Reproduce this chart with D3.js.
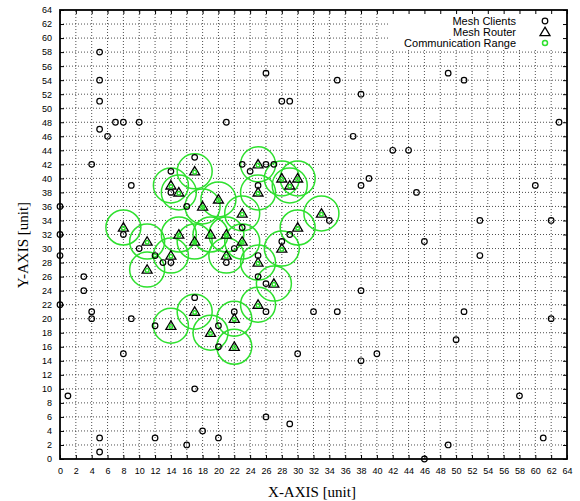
<!doctype html>
<html lang="en">
<head>
<meta charset="utf-8" />
<title>Mesh network layout</title>
<style>
  html, body { margin: 0; padding: 0; background: #fff; }
  svg text { fill: #000; }
  .tick text { font: 9px "Liberation Sans", Arial, sans-serif; }
  .title { font: 15px "Liberation Serif", "Times New Roman", serif; }
  .key { font: 11px "Liberation Sans", Arial, sans-serif; }
</style>
</head>
<body>
<svg id="chart" width="580" height="501"></svg>
<script src="https://cdn.jsdelivr.net/npm/d3@7/dist/d3.min.js"></script>
<script>
// mesh clients, [x, y] in units
const clients = [
  [5,58],[5,54],[5,51],[5,47],[6,46],[7,48],[8,48],[10,48],[21,48],
  [26,55],[35,54],[28,51],[29,51],[38,52],[49,55],[51,54],[37,46],[42,44],[44,44],[63,48],
  [4,42],[9,39],[0,36],[0,32],[0,29],[3,26],[3,24],[0,22],[8,32],[10,30],[12,29],[13,28],[14,28],
  [14,38],[14,41],[17,43],[16,36],[23,42],[24,41],[17,23],[23,33],[22,30],[21,28],[25,29],[25,39],[25,26],
  [26,42],[27,42],[38,39],[39,40],[45,38],[34,34],[29,32],[28,31],[26,25],[53,34],[46,31],[53,29],[38,24],
  [26,21],[32,21],[35,21],[51,21],[50,17],[30,15],[38,14],[40,15],[26,6],[29,5],[49,2],[46,0],
  [4,21],[4,20],[9,20],[8,15],[1,9],[5,3],[5,1],[12,3],[16,2],[18,4],[20,3],[17,10],[12,19],[20,19],[20,16],[22,21],
  [60,39],[62,34],[62,20],[58,9],[61,3]
];

// mesh routers, [x, y] in units; each gets a communication-range circle
const routers = [
  [8,33],[11,31],[11,27],[14,29],[14,39],[15,38],[17,41],[18,36],[20,37],[23,35],
  [15,32],[17,31],[19,32],[21,32],[23,31],[21,29],[25,28],[25,42],[25,38],[25,22],
  [28,40],[30,40],[29,39],[33,35],[30,33],[28,30],[27,25],
  [14,19],[17,21],[19,18],[22,20],[22,16]
];

const ticks = d3.range(0, 65, 2);
const keyLabels = ['Mesh Clients', 'Mesh Router', 'Communication Range'];

const GREEN = '#2ee02e';
const RANGE_PX = 17.5;

const svg = d3.select('#chart');
const x = d3.scaleLinear([0, 64], [60, 567]);
const y = d3.scaleLinear([0, 64], [459, 10]);

// dotted grid
const grid = svg.append('g').attr('stroke', '#222').attr('stroke-width', 0.8).attr('stroke-dasharray', '1,2');
grid.selectAll('line.v').data(ticks.slice(1, -1)).join('line').attr('class', 'v')
  .attr('x1', d => x(d)).attr('x2', d => x(d)).attr('y1', y(0)).attr('y2', y(64));
grid.selectAll('line.h').data(ticks.slice(1, -1)).join('line').attr('class', 'h')
  .attr('y1', d => y(d)).attr('y2', d => y(d)).attr('x1', x(0)).attr('x2', x(64));

// key box blanks the grid underneath
svg.append('rect').attr('x', 388).attr('y', y(64) + 1).attr('width', x(64) - 389).attr('height', 37).attr('fill', '#fff');

// communication ranges
svg.append('g').selectAll('circle').data(routers).join('circle')
  .attr('cx', d => x(d[0])).attr('cy', d => y(d[1])).attr('r', RANGE_PX)
  .attr('fill', 'none').attr('stroke', GREEN).attr('stroke-width', 1.5);

// clients
svg.append('g').selectAll('circle').data(clients).join('circle')
  .attr('cx', d => x(d[0])).attr('cy', d => y(d[1])).attr('r', 2.8)
  .attr('fill', 'none').attr('stroke', '#000').attr('stroke-width', 1.2);

function tri(cx, cy) {
  return `M${cx},${cy - 4.8}L${cx + 5},${cy + 3.6}L${cx - 5},${cy + 3.6}Z`;
}

// routers: open triangle + small green range marker
const rg = svg.append('g');
rg.selectAll('path').data(routers).join('path')
  .attr('d', d => tri(x(d[0]), y(d[1])))
  .attr('fill', 'none').attr('stroke', '#000').attr('stroke-width', 1.3);
rg.selectAll('circle').data(routers).join('circle')
  .attr('cx', d => x(d[0])).attr('cy', d => y(d[1]) + 0.8).attr('r', 1.8)
  .attr('fill', 'none').attr('stroke', GREEN).attr('stroke-width', 1.5);

// axes, ticks inward on all four sides
svg.append('g').attr('transform', `translate(0,${y(0)})`)
  .call(d3.axisBottom(x).tickValues(ticks).tickSize(-4).tickPadding(9));
svg.append('g').attr('transform', `translate(${x(0)},0)`)
  .call(d3.axisLeft(y).tickValues(ticks).tickSize(-4).tickPadding(8));
svg.append('g').attr('transform', `translate(0,${y(64)})`)
  .call(d3.axisTop(x).tickValues(ticks).tickSize(-4).tickFormat(''));
svg.append('g').attr('transform', `translate(${x(64)},0)`)
  .call(d3.axisRight(y).tickValues(ticks).tickSize(-4).tickFormat(''));
svg.selectAll('.domain').remove();
svg.selectAll('.tick line').attr('stroke', '#000').attr('stroke-width', 1);

svg.append('rect').attr('x', x(0)).attr('y', y(64)).attr('width', x(64) - x(0)).attr('height', y(0) - y(64))
  .attr('fill', 'none').attr('stroke', '#000').attr('stroke-width', 1.8);

// titles
svg.append('text').attr('class', 'title').attr('x', 312).attr('y', 497).attr('text-anchor', 'middle').text('X-AXIS [unit]');
svg.append('text').attr('class', 'title').attr('transform', 'translate(28,245) rotate(-90)')
  .attr('text-anchor', 'middle').text('Y-AXIS [unit]');

// key
const key = svg.append('g');
keyLabels.forEach((t, i) => {
  const ky = 21 + i * 11;
  key.append('text').attr('class', 'key').attr('x', 516).attr('y', ky + 4).attr('text-anchor', 'end').text(t);
  const sx = 545;
  if (i === 0) key.append('circle').attr('cx', sx).attr('cy', ky).attr('r', 2.8).attr('fill', 'none').attr('stroke', '#000').attr('stroke-width', 1.2);
  if (i === 1) key.append('path').attr('d', tri(sx, ky)).attr('fill', 'none').attr('stroke', '#000').attr('stroke-width', 1.3);
  if (i === 2) key.append('circle').attr('cx', sx).attr('cy', ky).attr('r', 2.5).attr('fill', 'none').attr('stroke', GREEN).attr('stroke-width', 1.5);
});
</script>
</body>
</html>
